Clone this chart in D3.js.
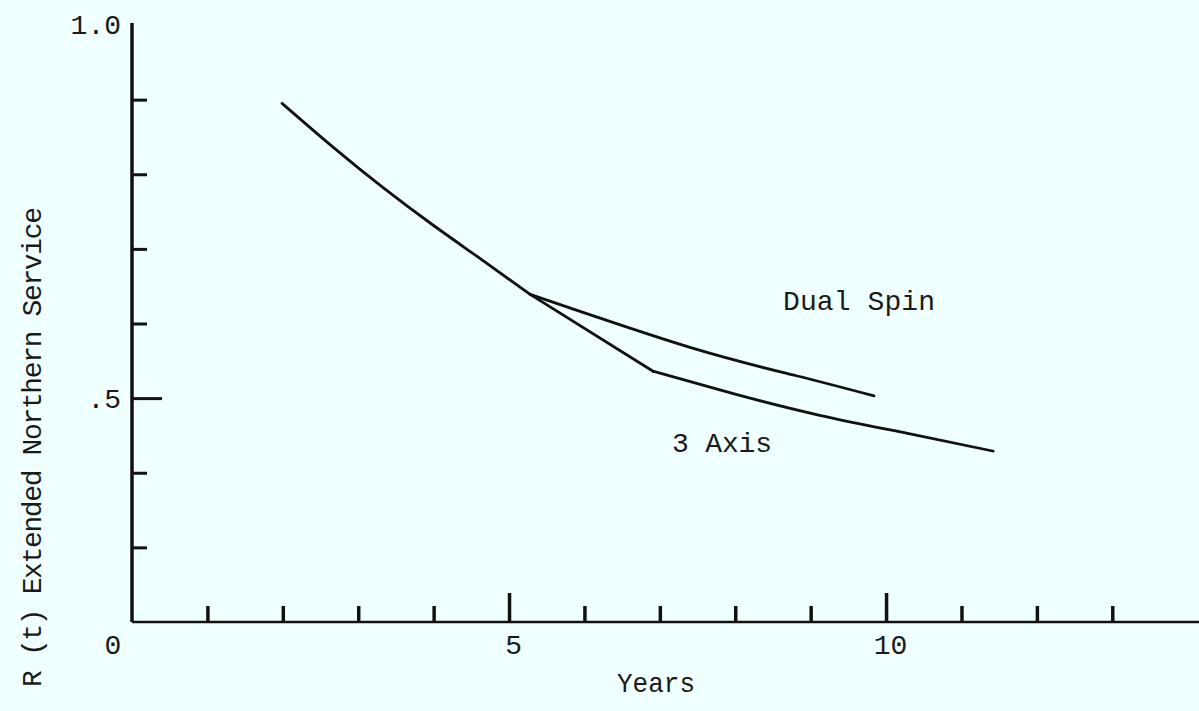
<!DOCTYPE html>
<html>
<head>
<meta charset="utf-8">
<script src="https://cdn.jsdelivr.net/npm/d3@7"></script>
<style>
  body { margin: 0; background: #f0ffff; }
  svg { display: block; }
  text { font-family: "Liberation Mono", "DejaVu Sans Mono", monospace; fill: #1a1a1a; }
</style>
</head>
<body>
<svg width="1199" height="711"></svg>
<script>
var svg = d3.select('svg');

// values (years, R(t))
var commonPart = [[1.99, 0.895], [2.67, 0.836], [3.33, 0.782], [3.99, 0.732], [4.66, 0.684], [5.28, 0.639]];
var dualSpin   = [[5.28, 0.639], [7.40, 0.568], [8.81, 0.530], [9.84, 0.503]];
var threeAxisA = [[5.28, 0.639], [6.91, 0.536]];
var threeAxisB = [[6.91, 0.536], [8.01, 0.505], [9.12, 0.477], [10.27, 0.453], [11.42, 0.429]];

var xTicks = [1, 2, 3, 4, 5, 6, 7, 8, 9, 10, 11, 12, 13];
var xLabels = [5, 10];
var yTicks = [0.3, 0.4, 0.5, 0.6, 0.7, 0.8, 0.9];
var yLabels = [0.5, 1.0];

svg.append("rect")
    .attr("width", "100%")
    .attr("height", "100%")
    .attr("fill", "#f0ffff");

var x = d3.scaleLinear().domain([0, 14.15]).range([132, 1199]);
var y = d3.scaleLinear().domain([0.2, 1.0]).range([622, 25]);

// x axis, ticks pointing up
var xAxis = svg.append("g")
    .attr("transform", "translate(0," + y(0.2) + ")")
    .call(d3.axisBottom(x).tickValues(xTicks).tickSize(-16).tickFormat(""));
xAxis.select(".domain").attr("d", "M" + x(0) + ",0H1199").attr("stroke", "#111").attr("stroke-width", 2.5);
xAxis.selectAll(".tick line")
    .attr("stroke", "#111")
    .attr("stroke-width", 3.5)
    .attr("y2", function(d) { return (d == 5 || d == 10) ? -29 : -16; });

svg.append("g")
    .attr("transform", "translate(4," + y(0.2) + ")")
    .call(d3.axisBottom(x).tickValues(xLabels).tickSize(0).tickPadding(12).tickFormat(d3.format("d")))
    .call(function(g) { g.select(".domain").remove(); })
    .selectAll("text")
    .style("font-size", "28px")
    .attr("fill", "#1a1a1a");

// y axis, ticks pointing right
var yAxis = svg.append("g")
    .attr("transform", "translate(" + x(0) + ",0)")
    .call(d3.axisLeft(y).tickValues(yTicks).tickSize(-15).tickFormat(""));
yAxis.select(".domain").attr("d", "M0," + y(0.2) + "V" + (y(1.0) - 2)).attr("stroke", "#111").attr("stroke-width", 3.5);
yAxis.selectAll(".tick line")
    .attr("stroke", "#111")
    .attr("stroke-width", 3)
    .attr("x2", function(d) { return d == 0.5 ? 30 : 15; });

svg.append("g")
    .attr("transform", "translate(" + x(0) + ",0)")
    .call(d3.axisLeft(y).tickValues(yLabels).tickSize(0).tickPadding(11)
        .tickFormat(function(d) { return d == 1 ? "1.0" : ".5"; }))
    .call(function(g) { g.select(".domain").remove(); })
    .selectAll("text")
    .style("font-size", "28px")
    .attr("fill", "#1a1a1a");

// origin label
svg.append("text")
    .attr("x", x(0) - 19)
    .attr("y", y(0.2) + 32)
    .attr("text-anchor", "middle")
    .style("font-size", "28px")
    .text("0");

svg.append("text")
    .attr("x", 617)
    .attr("y", 692)
    .attr("textLength", 78)
    .attr("lengthAdjust", "spacingAndGlyphs")
    .style("font-size", "28px")
    .text("Years");

svg.append("text")
    .attr("transform", "translate(41,447) rotate(-90)")
    .attr("text-anchor", "middle")
    .attr("textLength", 480)
    .attr("lengthAdjust", "spacing")
    .style("font-size", "28px")
    .text("R (t) Extended Northern Service");

// curves
var smooth = d3.line()
    .x(function(d) { return x(d[0]); })
    .y(function(d) { return y(d[1]); })
    .curve(d3.curveNatural);
var straight = d3.line()
    .x(function(d) { return x(d[0]); })
    .y(function(d) { return y(d[1]); });

[[commonPart, smooth], [dualSpin, smooth], [threeAxisA, straight], [threeAxisB, smooth]].forEach(function(s) {
    svg.append("path")
        .attr("d", s[1](s[0]))
        .attr("fill", "none")
        .attr("stroke", "#111")
        .attr("stroke-width", 2.8)
        .attr("stroke-linecap", "round")
        .attr("stroke-linejoin", "round");
});

svg.append("text")
    .attr("x", 783)
    .attr("y", 310)
    .attr("textLength", 152)
    .attr("lengthAdjust", "spacing")
    .style("font-size", "28px")
    .text("Dual Spin");

svg.append("text")
    .attr("x", 672)
    .attr("y", 452)
    .attr("textLength", 100)
    .attr("lengthAdjust", "spacing")
    .style("font-size", "28px")
    .text("3 Axis");
</script>
</body>
</html>
